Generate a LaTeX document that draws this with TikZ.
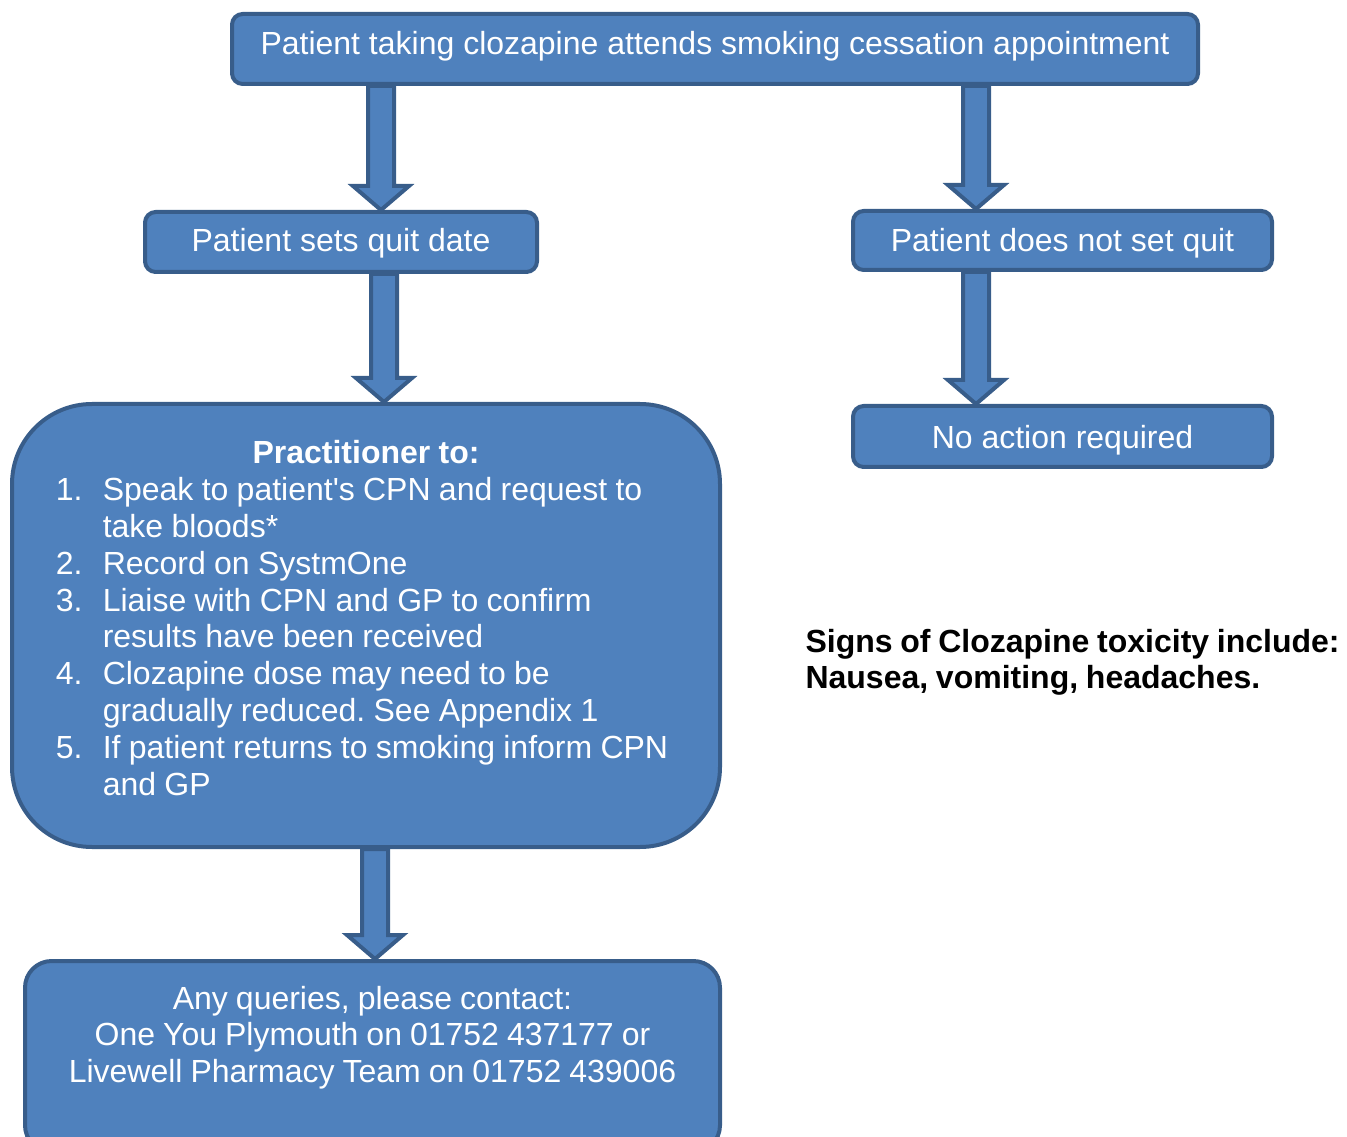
\documentclass[tikz,border=0pt]{standalone}
\usepackage{fontspec}
\setmainfont{Liberation Sans}
\usetikzlibrary{calc}

\definecolor{boxfill}{HTML}{4F81BD}
\definecolor{boxline}{HTML}{385D8A}

\tikzset{
  box/.style={draw=boxline, fill=boxfill, line width=1.5pt, rounded corners=4pt,
    text=white, font=\fontsize{12pt}{13.8pt}\selectfont, inner sep=0pt, anchor=north},
  blockarrow/.style={draw=boxline, fill=boxfill, line width=1.5pt, line join=miter},
}

% wide arrow at x = #1 from node #2 down to node #3
\newcommand{\blockarrow}[3]{%
  \draw[blockarrow] (#1-13,0 |- #2.south) -- ($(#1-13,0 |- #3.north)+(0,-24)$)
    -- ($(#1-28,0 |- #3.north)+(0,-24)$) -- (#1,0 |- #3.north)
    -- ($(#1+28,0 |- #3.north)+(0,-24)$) -- ($(#1+13,0 |- #3.north)+(0,-24)$)
    -- (#1+13,0 |- #2.south) -- cycle;}
\newcommand{\tightspaces}[1]{\frenchspacing\spaceskip=#1\relax}

\begin{document}
\begin{tikzpicture}[x=0.375pt, y=-0.375pt]
        \useasboundingbox (0,0) rectangle (1347,1137);
        \clip (0,0) rectangle (1347,1137);

        \node (appt) [box, minimum width=362.25pt, text height=15.375pt, text depth=10.875pt]
            at (715,12) {Patient taking clozapine attends smoking cessation appointment};
        \node (quit) [box, minimum width=147pt, text height=15pt, text depth=7.5pt]
            at (341,210) {Patient sets quit date};
        \node (noquit) [box, minimum width=157.125pt, text height=15.375pt, text depth=6.75pt]
            at (1062.5,209) {Patient does not set quit};
        \node (noaction) [box, minimum width=157.125pt, text height=16.125pt, text depth=6.75pt]
            at (1062.5,404) {No action required};
        \node (practitioner) [box, rounded corners=30pt, minimum width=265.5pt, text width=265pt,
            align=center, text height=22.5pt, text depth=143.625pt] at (366,402) {\tightspaces{3.1pt}%
            \textbf{Practitioner to:}\\
            \begin{tabular}[t]{@{}p{17.6pt}@{}l@{\hspace{3pt}}}
            1. & Speak to patient\textquotesingle s CPN and request to\\
               & take bloods*\\
            2. & Record on SystmOne\\
            3. & Liaise with CPN and GP to confirm\\
               & results have been received\\
            4. & Clozapine dose may need to be\\
               & gradually reduced. See Appendix 1\\
            5. & If patient returns to smoking inform CPN\\
               & and GP
            \end{tabular}};
        \node (queries) [box, rounded corners=10pt, minimum width=260.625pt, text width=260pt,
            align=center, text height=18pt, text depth=53.625pt] at (372.5,959)
            {\tightspaces{3pt}Any queries, please contact:\\
             One You Plymouth on 01752 437177 or\\
             Livewell Pharmacy Team on 01752 439006};
        \node (signs) [anchor=base west, inner sep=0pt, text width=215pt, align=left,
            font=\bfseries\fontsize{12pt}{13.8pt}\selectfont] at (805,652)
            {\tightspaces{2.9pt}Signs of Clozapine toxicity include:\\ Nausea, vomiting, headaches.};

        \blockarrow{381}{appt}{quit}
        \blockarrow{976}{appt}{noquit}
        \blockarrow{384}{quit}{practitioner}
        \blockarrow{976}{noquit}{noaction}
        \blockarrow{375}{practitioner}{queries}
\end{tikzpicture}
\end{document}
